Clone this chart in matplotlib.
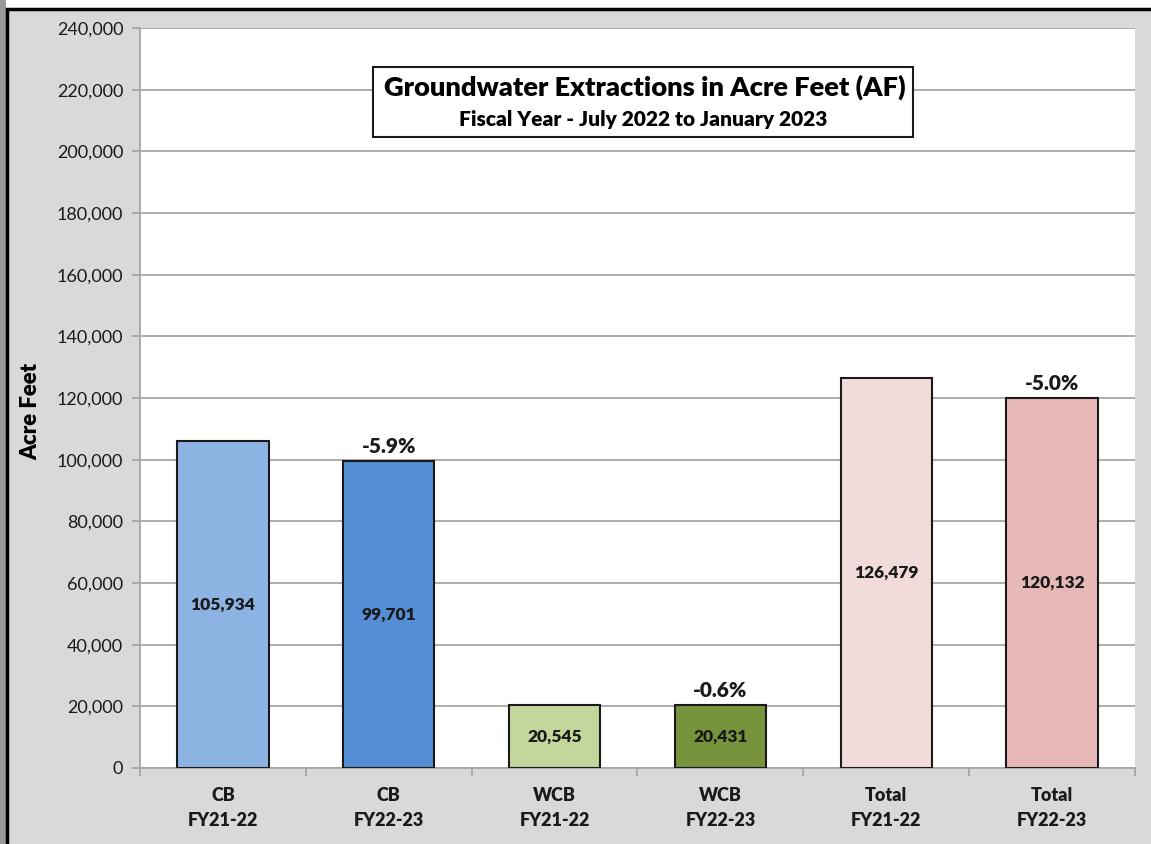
import matplotlib
matplotlib.use("Agg")
import matplotlib.pyplot as plt
from matplotlib.patches import Rectangle

plt.rcParams["font.family"] = ["Lato", "DejaVu Sans"]

# chart data
categories = ["CB\nFY21-22", "CB\nFY22-23", "WCB\nFY21-22", "WCB\nFY22-23",
              "Total\nFY21-22", "Total\nFY22-23"]
values = [105934, 99701, 20545, 20431, 126479, 120132]
pct_change = [None, "-5.9%", None, "-0.6%", None, "-5.0%"]
colors = ["#8db3e2", "#558ed5", "#c3d69b", "#77933c", "#f2dcdb", "#e6b9b8"]
yticks = list(range(0, 240001, 20000))

BOLD = "heavy"
W, H = 1151, 844
fig = plt.figure(figsize=(W / 100, H / 100), dpi=100, facecolor="white")

# frame: shadow strip, black border, grey chart area
fig.patches.append(Rectangle((0, 0), 6 / W, 1, transform=fig.transFigure,
                             facecolor="#9a9a9a", edgecolor="none", zorder=-10))
fig.patches.append(Rectangle((7.5 / W, -0.05), 1.1, (H - 9) / H + 0.05,
                             transform=fig.transFigure, facecolor="#d9d9d9",
                             edgecolor="black", linewidth=2.5, zorder=-10))

ax = fig.add_axes([140 / W, (H - 768) / H, 995 / W, 740 / H])
ax.set_facecolor("white")

x = range(len(values))
bars = ax.bar(x, values, width=0.55, color=colors, edgecolor="#1a1a1a",
              linewidth=1.5, zorder=3)

ax.set_xlim(-0.5, len(values) - 0.5)
ax.set_ylim(0, 240000)
ax.set_yticks(yticks)
ax.set_yticklabels([f"{v:,}" for v in yticks], fontsize=13, color="#1a1a1a")
ax.yaxis.grid(True, color="#a6a6a6", linewidth=1.3, zorder=0)
ax.set_axisbelow(True)

ax.set_xticks(list(x))
ax.set_xticklabels(categories, fontsize=13, fontweight=BOLD, color="#1a1a1a",
                   linespacing=1.55)
ax.tick_params(axis="x", length=0, pad=14)
ax.set_xticks([i - 0.5 for i in range(len(values) + 1)], minor=True)
ax.tick_params(axis="x", which="minor", length=6, color="#a6a6a6", width=1.3)
ax.tick_params(axis="y", length=6, color="#a6a6a6", width=1.3, pad=6)

for side in ("top", "right"):
    ax.spines[side].set_visible(False)
for side in ("left", "bottom"):
    ax.spines[side].set_color("#a6a6a6")
    ax.spines[side].set_linewidth(1.3)

for b, v, p in zip(bars, values, pct_change):
    cx = b.get_x() + b.get_width() / 2
    ax.text(cx, v / 2, f"{v:,}", ha="center", va="center", fontsize=12.5,
            fontweight=BOLD, color="#1a1a1a", zorder=4)
    if p:
        ax.text(cx, v + 1500, p, ha="center", va="bottom", fontsize=15,
                fontweight=BOLD, color="#1a1a1a", zorder=4)

# title box
ax.add_patch(Rectangle((0.2342, 0.8527), 0.5427, 0.0946, transform=ax.transAxes,
                       facecolor="white", edgecolor="#1a1a1a", linewidth=1.5,
                       zorder=5))
ax.text(0.507, 0.9205, "Groundwater Extractions in Acre Feet (AF)",
        transform=ax.transAxes, ha="center", va="center", fontsize=19.6,
        fontweight=BOLD, color="black", zorder=6)
ax.text(0.5055, 0.877, "Fiscal Year - July 2022 to January 2023",
        transform=ax.transAxes, ha="center", va="center", fontsize=15,
        fontweight=BOLD, color="black", zorder=6)

fig.text(31 / W, (H - 411) / H, "Acre Feet", rotation=90, ha="center",
         va="center", fontsize=16, fontweight=BOLD, color="black")

fig.savefig("out.png", dpi=100, facecolor=fig.get_facecolor())
